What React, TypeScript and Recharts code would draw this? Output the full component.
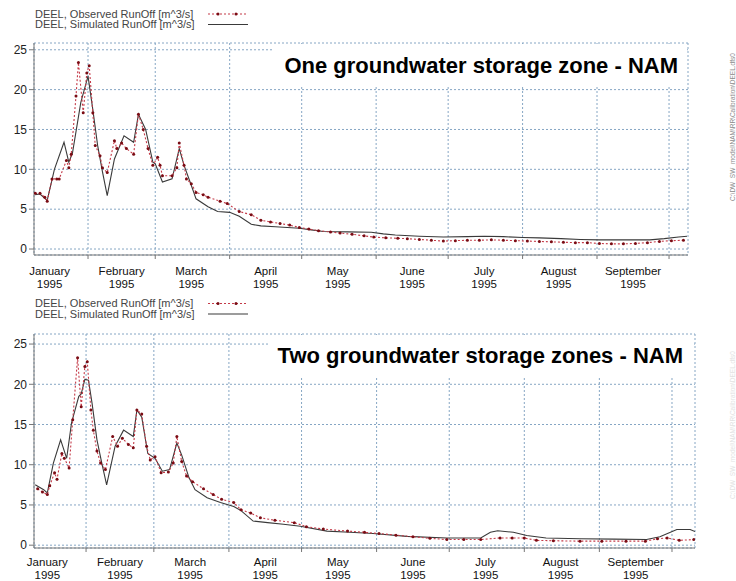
import React from "react";
import { LineChart, Line, XAxis, YAxis, CartesianGrid } from "recharts";

// calendar (day of year, 1995)
const monthStarts = [32, 60, 91, 121, 152, 182, 213, 244, 274];
const monthMids = [16, 46, 75, 106, 136, 167, 197, 228, 259];
const monthNames = ["January", "February", "March", "April", "May", "June", "July", "August", "September"];
const yearLabel = "1995";
const yTicks = [0, 5, 10, 15, 20, 25];
const yMinorTicks = [0, 1, 2, 3, 4, 5, 6, 7, 8, 9, 10, 11, 12, 13, 14, 15, 16, 17, 18, 19, 20, 21, 22, 23, 24, 25];

// One groundwater storage zone
const obsDaysTop = [10, 12, 14, 15, 17, 19, 20, 23, 24, 25, 27, 28, 30, 31.5, 32.5, 34, 35, 37, 38, 40, 43, 44, 46, 48, 51, 53, 55, 57, 59, 61, 62, 63, 67, 69, 70, 72, 73, 75, 77, 80, 82, 87, 90, 95, 100, 104, 108, 112, 116, 120, 124, 128, 133, 137, 142, 147, 151, 156, 161, 165, 170, 175, 180, 185, 190, 195, 200, 205, 210, 215, 220, 225, 230, 235, 240, 245, 250, 255, 260, 265, 270, 275, 280];
const obsTop = [7.0, 7.0, 6.5, 6.0, 8.8, 8.8, 8.8, 11.1, 10.2, 11.9, 19.2, 23.4, 17.1, 22.1, 23.0, 17.1, 13.0, 11.7, 10.2, 9.6, 13.6, 12.6, 13.3, 12.6, 11.9, 16.9, 15.0, 12.6, 10.5, 11.5, 10.5, 9.2, 9.2, 10.2, 13.3, 10.5, 8.8, 8.2, 7.1, 6.8, 6.5, 6.0, 5.7, 4.7, 4.3, 3.6, 3.4, 3.2, 3.0, 2.7, 2.5, 2.3, 2.15, 2.0, 1.85, 1.65, 1.5, 1.4, 1.35, 1.3, 1.2, 1.1, 1.0, 1.05, 1.1, 1.1, 1.15, 1.1, 1.05, 1.0, 0.95, 0.9, 0.85, 0.8, 0.8, 0.7, 0.65, 0.65, 0.7, 0.8, 0.95, 1.05, 1.1];
const simDaysTop = [10, 12, 15, 18, 22, 24, 25.5, 29, 32, 34, 36, 38, 40, 43, 47, 51, 53, 56, 59, 60, 63, 67, 70, 72, 75, 77, 82, 86, 91, 95, 100, 104, 110, 115, 120, 125, 130, 140, 150, 155, 160, 170, 180, 190, 197, 205, 213, 220, 229, 237, 245, 255, 266, 272, 278, 281.5];
const simTop = [6.8, 6.9, 6.1, 10.0, 13.4, 10.9, 12.0, 18.4, 21.7, 17.5, 13.0, 9.7, 6.7, 11.3, 14.2, 13.4, 16.9, 15.0, 10.9, 10.7, 8.4, 8.8, 12.6, 10.5, 8.0, 6.3, 5.3, 4.7, 4.6, 4.1, 3.1, 2.9, 2.8, 2.7, 2.6, 2.4, 2.2, 2.15, 2.1, 1.9, 1.75, 1.6, 1.5, 1.55, 1.6, 1.55, 1.45, 1.4, 1.3, 1.2, 1.15, 1.15, 1.15, 1.3, 1.5, 1.6];

// Two groundwater storage zones
const obsDaysBottom = [12, 14, 16, 17, 19, 20, 22, 23, 25, 26.5, 28.5, 30, 31.5, 32.5, 34, 35, 36.5, 38, 40, 43, 45, 47, 49.5, 51.5, 53, 55, 57, 58.5, 60.5, 63, 66, 68, 69.5, 71.5, 73.5, 76, 80.5, 84.5, 88, 93, 96, 100, 104, 110, 118, 123, 130, 140, 147, 153, 160, 167, 174, 181, 188, 195, 203, 208, 213, 218, 225, 236, 245, 255, 263, 268, 272, 277, 283];
const obsBottom = [7.0, 6.6, 6.3, 7.4, 9.0, 8.2, 11.4, 10.8, 9.6, 15.6, 23.3, 17.2, 22.2, 22.8, 16.8, 14.3, 11.7, 10.2, 9.4, 13.5, 12.3, 13.3, 12.5, 12.1, 16.8, 16.3, 12.3, 10.6, 11.0, 9.0, 9.1, 10.2, 13.5, 10.4, 8.6, 7.9, 7.0, 6.3, 5.7, 5.3, 4.4, 4.0, 3.4, 3.1, 2.8, 2.3, 2.0, 1.75, 1.6, 1.45, 1.25, 1.05, 0.85, 0.7, 0.7, 0.7, 0.9, 0.9, 0.9, 0.6, 0.55, 0.5, 0.5, 0.5, 0.5, 0.8, 0.9, 0.6, 0.7];
const simDaysBottom = [11, 14.5, 16, 18.5, 21.5, 24, 26, 29, 30, 31.5, 33, 34.5, 36.5, 38.5, 40.5, 44, 47.5, 51.5, 53, 55, 57.5, 60.5, 63.5, 66.5, 69.5, 71.5, 74.5, 77, 82, 87.5, 93, 96, 101, 107, 113.5, 120.5, 131.5, 141, 150.5, 164.5, 181, 195, 199, 202, 208.5, 214, 222, 236, 250, 263.5, 269, 276, 281.5, 283.5];
const simBottom = [7.5, 6.9, 6.5, 10.2, 13.1, 10.8, 15.2, 18.5, 18.8, 20.6, 20.5, 17.6, 13.1, 10.2, 7.5, 12.3, 14.3, 13.5, 16.8, 15.9, 11.4, 10.8, 9.2, 9.4, 12.7, 11.2, 8.4, 6.9, 5.9, 5.3, 4.8, 4.3, 3.0, 2.8, 2.6, 2.35, 1.75, 1.6, 1.45, 1.1, 0.9, 0.9, 1.6, 1.8, 1.6, 1.2, 0.9, 0.8, 0.75, 0.7, 1.05, 1.95, 1.95, 1.7];

const seriesNames = ["DEEL, Observed RunOff [m^3/s]", "DEEL, Simulated RunOff [m^3/s]"];
const titles = ["One groundwater storage zone - NAM", "Two groundwater storage zones - NAM"];

const FONT = "'Liberation Sans', Arial, sans-serif";
const OBS_COLOR = "#c43a48";
const OBS_DOT = "#7a0c14";
const SIM_COLOR = "#3a3a3a";
const GRID = "#86a6c4";
const FRAME = "#777";

const rows = (days: number[], vals: number[]) => days.map((d, i) => ({ day: d, q: vals[i] }));

const MonthTick = (props: any) => {
  const { x, y, payload, dy } = props;
  const i = monthMids.indexOf(payload.value);
  return (
    <text x={x} y={y} textAnchor="middle" fontSize={11.5} fill="#111" fontFamily={FONT}>
      <tspan x={x} dy={dy}>{monthNames[i]}</tspan>
      <tspan x={x} dy={12.5}>{yearLabel}</tspan>
    </text>
  );
};

interface PanelProps {
  width: number;
  height: number;
  top: number;
  right: number;
  xDomain: [number, number];
  yDomain: [number, number];
  obs: { day: number; q: number }[];
  sim: { day: number; q: number }[];
  labelHeight: number;
  labelDy: number;
}

const Panel: React.FC<PanelProps> = ({ width, height, top, right, xDomain, yDomain, obs, sim, labelHeight, labelDy }) => (
  <LineChart width={width} height={height} margin={{ top, right, bottom: 0, left: 0 }}>
    <CartesianGrid yAxisId="main" stroke={GRID} strokeDasharray="2 2" />
    <XAxis
      type="number"
      dataKey="day"
      domain={xDomain}
      allowDataOverflow
      ticks={monthStarts}
      interval={0}
      tick={() => <g />}
      tickSize={4}
      height={4}
      stroke={FRAME}
    />
    <XAxis
      xAxisId="labels"
      type="number"
      dataKey="day"
      domain={xDomain}
      allowDataOverflow
      ticks={monthMids}
      interval={0}
      tickLine={false}
      axisLine={false}
      tickSize={0}
      tickMargin={0}
      height={labelHeight}
      tick={(p: any) => <MonthTick {...p} dy={labelDy} />}
    />
    <XAxis
      xAxisId="top"
      orientation="top"
      type="number"
      dataKey="day"
      domain={xDomain}
      allowDataOverflow
      ticks={monthStarts}
      interval={0}
      mirror
      height={0}
      tickSize={3}
      tick={() => <g />}
      stroke={FRAME}
    />
    <YAxis
      type="number"
      domain={yDomain}
      allowDataOverflow
      ticks={yMinorTicks}
      interval={0}
      width={0}
      tickSize={3}
      axisLine={false}
      tick={() => <g />}
      stroke={FRAME}
    />
    <YAxis
      yAxisId="main"
      type="number"
      domain={yDomain}
      allowDataOverflow
      ticks={yTicks}
      interval={0}
      width={34}
      tickSize={5}
      tickMargin={2}
      stroke={FRAME}
      tick={{ fontSize: 12, fill: "#222", fontFamily: FONT }}
    />
    <YAxis
      yAxisId="right"
      orientation="right"
      type="number"
      domain={yDomain}
      width={0}
      tick={false}
      tickLine={false}
      stroke={FRAME}
    />
    <Line
      yAxisId="main"
      data={sim}
      dataKey="q"
      type="linear"
      stroke={SIM_COLOR}
      strokeWidth={1.1}
      dot={false}
      isAnimationActive={false}
    />
    <Line
      yAxisId="main"
      data={obs}
      dataKey="q"
      type="linear"
      stroke={OBS_COLOR}
      strokeWidth={1.1}
      strokeDasharray="2 2"
      dot={{ r: 1.5, fill: OBS_DOT, strokeWidth: 0 }}
      isAnimationActive={false}
    />
  </LineChart>
);

const LegendBlock = ({ y }: { y: number }) => (
  <g fontFamily={FONT} fontSize={11} fill="#444">
    <text x={35} y={y}>{seriesNames[0]}</text>
    <text x={35} y={y + 10.5}>{seriesNames[1]}</text>
    <line x1={208} x2={246} y1={y - 3.5} y2={y - 3.5} stroke={OBS_COLOR} strokeWidth={1.1} strokeDasharray="2 2" />
    <circle cx={218} cy={y - 3.5} r={1.5} fill={OBS_DOT} />
    <circle cx={236} cy={y - 3.5} r={1.5} fill={OBS_DOT} />
    <line x1={208} x2={248} y1={y + 7} y2={y + 7} stroke={SIM_COLOR} strokeWidth={1.1} />
  </g>
);

export default function App() {
  return (
    <div style={{ position: "absolute", left: 0, top: 0, width: 736, height: 581, background: "#fff", overflow: "hidden" }}>
      <div style={{ position: "absolute", left: 0, top: 0 }}>
        <Panel
          width={736}
          height={292}
          top={43}
          right={48}
          xDomain={[9.5, 281.9]}
          yDomain={[-0.75, 25.85]}
          obs={rows(obsDaysTop, obsTop)}
          sim={rows(simDaysTop, simTop)}
          labelHeight={33}
          labelDy={16}
        />
      </div>
      <div style={{ position: "absolute", left: 0, top: 292 }}>
        <Panel
          width={736}
          height={289}
          top={42}
          right={41}
          xDomain={[10.5, 283.5]}
          yDomain={[-0.35, 26.25]}
          obs={rows(obsDaysBottom, obsBottom)}
          sim={rows(simDaysBottom, simBottom)}
          labelHeight={29}
          labelDy={14}
        />
      </div>
      <svg width={736} height={581} style={{ position: "absolute", left: 0, top: 0, pointerEvents: "none" }}>
        <LegendBlock y={17.5} />
        <LegendBlock y={307} />
        <rect x={273} y={44} width={414} height={41} fill="#fff" />
        <text x={678} y={73} textAnchor="end" fontFamily={FONT} fontSize={22} fontWeight="bold" fill="#000">
          {titles[0]}
        </text>
        <rect x={268} y={335} width={426} height={42} fill="#fff" />
        <text x={683} y={363} textAnchor="end" fontFamily={FONT} fontSize={22} fontWeight="bold" fill="#000">
          {titles[1]}
        </text>
        <text x={735} y={127} transform="rotate(-90 735 127)" textAnchor="middle" fontFamily={FONT} fontSize={6.5} fill="#8a8a8a">
          C:\DW_SW_model\NAM\RR\Calibration\DEEL.dfs0
        </text>
        <text x={735} y={425} transform="rotate(-90 735 425)" textAnchor="middle" fontFamily={FONT} fontSize={6.5} fill="#e2e2e2">
          C:\DW_SW_model\NAM\RR\Calibration\DEEL.dfs0
        </text>
      </svg>
    </div>
  );
}
